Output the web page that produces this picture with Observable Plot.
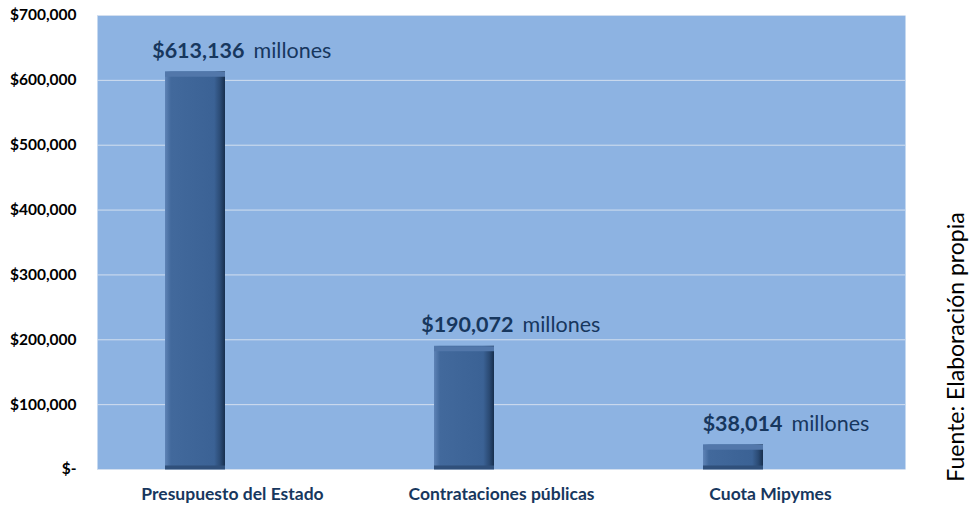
<!DOCTYPE html>
<html>
<head>
<meta charset="utf-8">
<script src="https://cdn.jsdelivr.net/npm/d3@7"></script>
<script src="https://cdn.jsdelivr.net/npm/@observablehq/plot@0.6"></script>
<style>
  html, body { margin: 0; padding: 0; background: #ffffff; }
  #chart svg { display: block; }
</style>
</head>
<body>
<div id="chart"></div>
<script>
const categories = ["Presupuesto del Estado", "Contrataciones públicas", "Cuota Mipymes"];
const values = [613136, 190072, 38014];
const valueLabels = ["$613,136", "$190,072", "$38,014"];
const unitLabel = "millones";
const yTicks = [0, 100000, 200000, 300000, 400000, 500000, 600000, 700000];
const sourceText = "Fuente: Elaboración propia";

const data = categories.map((c, i) => ({cat: c, value: values[i], label: valueLabels[i], unit: unitLabel}));

const navy = "#17375E";
const barShift = -37;
const font = "Lato, 'Open Sans', sans-serif";

const plot = Plot.plot({
  width: 971,
  height: 505,
  marginTop: 15,
  marginBottom: 36,
  marginLeft: 97,
  marginRight: 66,
  style: {fontFamily: font, background: "#ffffff"},
  x: {domain: categories, paddingInner: 0.777, paddingOuter: 0.3885, label: null},
  y: {domain: [0, 700000], label: null},
  marks: [
    Plot.frame({fill: "#8DB3E2", stroke: null}),
    Plot.gridY(yTicks, {stroke: "#D3DFEF", strokeOpacity: 1, strokeWidth: 1}),
    Plot.barY(data, {x: "cat", y: "value", fill: "url(#barGrad)", dx: barShift}),
    Plot.tickY(data, {x: "cat", y: "value", stroke: "#5277AA", strokeWidth: 5, dx: barShift, dy: 2.5}),
    Plot.tickY(data, {x: "cat", y: () => 0, stroke: "#30507B", strokeWidth: 4, dx: barShift, dy: -2}),
    Plot.text(data, {x: "cat", y: "value", text: "label", textAnchor: "end", lineAnchor: "bottom", dx: 12, dy: -14, fontWeight: "bold", fontSize: 21.5, fill: navy}),
    Plot.text(data, {x: "cat", y: "value", text: "unit", textAnchor: "start", lineAnchor: "bottom", dx: 21, dy: -14, fontSize: 21.5, fill: navy}),
    Plot.axisY(yTicks, {tickSize: 0, tickPadding: 21, fontSize: 15.5, fontWeight: "bold", fill: "#000000",
      tickFormat: d => d === 0 ? "$-" : "$" + d3.format(",")(d)}),
    Plot.axisX({tickSize: 0, tickPadding: 18, fontSize: 17.5, fontWeight: "bold", fill: navy})
  ]
});

const svg = d3.select(plot);
const defs = svg.insert("defs", ":first-child");
const g = defs.append("linearGradient").attr("id", "barGrad").attr("x1", "0").attr("x2", "1").attr("y1", "0").attr("y2", "0");
[[0, "#5E83B6"], [0.1, "#42699C"], [0.5, "#3E6598"], [0.82, "#3B6295"], [0.92, "#2B4B75"], [1, "#172F4E"]]
  .forEach(([o, c]) => g.append("stop").attr("offset", o).attr("stop-color", c));

svg.append("text")
  .attr("transform", "translate(955,347) rotate(-90)")
  .attr("text-anchor", "middle")
  .attr("dominant-baseline", "central")
  .attr("font-size", 23)
  .attr("font-family", font)
  .attr("fill", "#000000")
  .text(sourceText);

document.getElementById("chart").appendChild(plot);
</script>
</body>
</html>
